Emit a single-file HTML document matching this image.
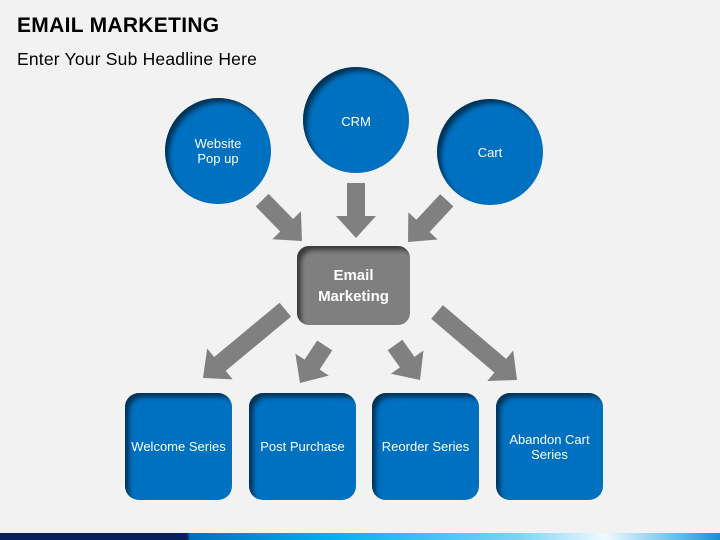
<!DOCTYPE html>
<html><head><meta charset="utf-8"><style>
body{margin:0;width:720px;height:540px;overflow:hidden;background:#f2f2f2;font-family:"Liberation Sans",sans-serif;position:relative}
.t{position:absolute;left:17px;top:14px;font-size:21px;font-weight:bold;color:#000;letter-spacing:0.3px}
.s{position:absolute;left:17px;top:49px;font-size:17.5px;color:#000;letter-spacing:0.2px}
.c{position:absolute;width:106px;height:106px;border-radius:50%;background:#0070c0;box-shadow:inset 5px 5px 5px -1px rgba(0,0,0,.55);color:#fff;font-size:13px;display:flex;align-items:center;justify-content:center;text-align:center;line-height:15px}
.b{position:absolute;width:107px;height:107px;top:393px;border-radius:14px;background:#0070c0;box-shadow:inset 5px 5px 5px -1px rgba(0,0,0,.55);color:#fff;font-size:13px;display:flex;align-items:center;justify-content:center;text-align:center;line-height:15px}
.e{position:absolute;left:297px;top:246px;width:113px;height:79px;border-radius:12px;background:#7f7f7f;box-shadow:inset 5px 5px 5px -1px rgba(0,0,0,.55);color:#fff;font-size:15px;font-weight:bold;display:flex;align-items:center;justify-content:center;text-align:center;line-height:21px}
.bar{position:absolute;left:0;top:533px;width:720px;height:7px;background:linear-gradient(90deg,#0a1f5c 0,#0a1f5c 187px,#0070c0 190px,#00b0f0 330px,#7fd3f5 520px,#f0faff 605px,#5fbde8 680px,#1a8fd6 720px)}
svg{position:absolute;left:0;top:0}
</style></head><body>
<div class="t">EMAIL MARKETING</div>
<div class="s">Enter Your Sub Headline Here</div>
<svg width="720" height="540">
<g fill="#808080">
<g transform="translate(302,241) rotate(45.7)"><polygon points="-57,-9 -22,-9 -22,-20 0,0 -22,20 -22,9 -57,9"/></g>
<g transform="translate(356,238) rotate(90)"><polygon points="-55,-9 -22,-9 -22,-20 0,0 -22,20 -22,9 -55,9"/></g>
<g transform="translate(408,242) rotate(132.9)"><polygon points="-57,-9 -22,-9 -22,-20 0,0 -22,20 -22,9 -57,9"/></g>
<g transform="translate(203,378) rotate(140.3)"><polygon points="-107,-9 -22,-9 -22,-20 0,0 -22,20 -22,9 -107,9"/></g>
<g transform="translate(300,383) rotate(123.3)"><polygon points="-45,-9 -22,-9 -22,-20 0,0 -22,20 -22,9 -45,9"/></g>
<g transform="translate(420,380) rotate(54.5)"><polygon points="-43,-9 -22,-9 -22,-20 0,0 -22,20 -22,9 -43,9"/></g>
<g transform="translate(517,380) rotate(40.4)"><polygon points="-105,-9 -22,-9 -22,-20 0,0 -22,20 -22,9 -105,9"/></g>
</g></svg>
<div class="c" style="left:165px;top:98px">Website<br>Pop up</div>
<div class="c" style="left:303px;top:67px;align-items:flex-start"><span style="margin-top:47px">CRM</span></div>
<div class="c" style="left:437px;top:99px">Cart</div>
<div class="e">Email<br>Marketing</div>
<div class="b" style="left:125px">Welcome Series</div>
<div class="b" style="left:249px">Post Purchase</div>
<div class="b" style="left:372px">Reorder Series</div>
<div class="b" style="left:496px">Abandon Cart<br>Series</div>
<div class="bar"></div>
</body></html>
